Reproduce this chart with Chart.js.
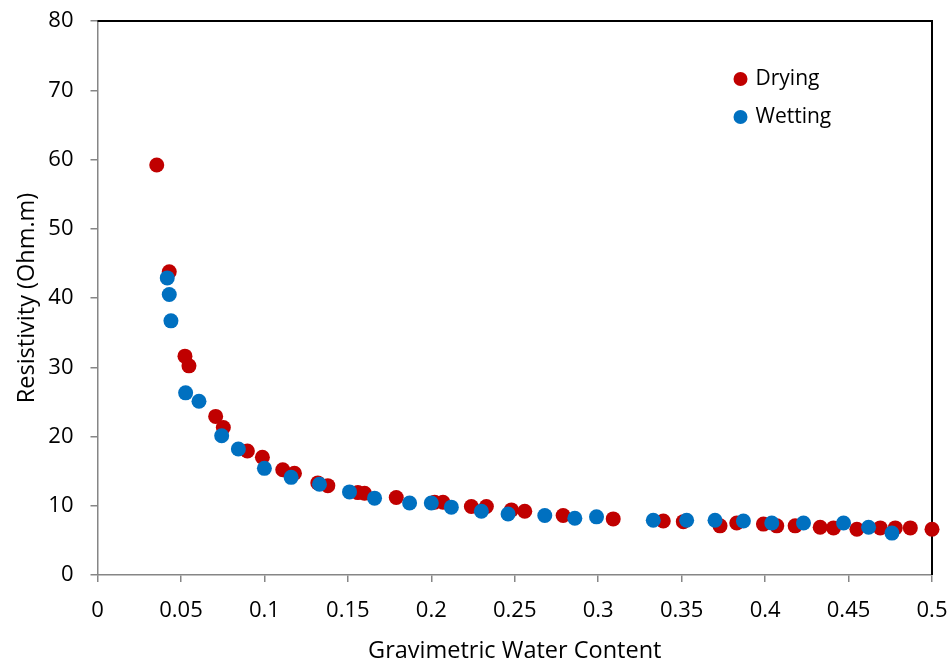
<!DOCTYPE html>
<html lang="en">
  <head>
    <meta charset="utf-8">
    <title>Resistivity vs gravimetric water content</title>
    <script type="text/javascript" src="https://cdn.jsdelivr.net/npm/chart.js"></script>
    <style>
      html, body { margin: 0; padding: 0; background: #fff; }
      #wrap { width: 952px; height: 666px; }
    </style>
  </head>
  <body>
    <div id="wrap">
      <canvas id="myChart" width="952" height="666"></canvas>
    </div>

    <script>
      // values
      const dryingX = [0.0355, 0.043, 0.0524, 0.0548, 0.0708, 0.0754, 0.0898, 0.0988, 0.111, 0.118,
        0.132, 0.138, 0.156, 0.160, 0.179, 0.202, 0.207, 0.224, 0.233, 0.248,
        0.256, 0.279, 0.309, 0.339, 0.351, 0.373, 0.383, 0.399, 0.407, 0.418,
        0.433, 0.441, 0.455, 0.469, 0.478, 0.487, 0.5];
      const dryingY = [59.2, 43.8, 31.6, 30.2, 22.9, 21.3, 17.9, 17.0, 15.2, 14.7,
        13.3, 12.9, 11.9, 11.8, 11.2, 10.5, 10.5, 9.9, 9.9, 9.4,
        9.2, 8.6, 8.1, 7.8, 7.7, 7.1, 7.5, 7.35, 7.1, 7.1,
        6.9, 6.8, 6.6, 6.8, 6.8, 6.8, 6.6];

      const wettingX = [0.0418, 0.043, 0.044, 0.0528, 0.0608, 0.0744, 0.0844, 0.1, 0.116, 0.133,
        0.151, 0.166, 0.187, 0.200, 0.212, 0.230, 0.246, 0.268, 0.286, 0.299,
        0.333, 0.353, 0.370, 0.387, 0.404, 0.423, 0.447, 0.462, 0.476];
      const wettingY = [42.9, 40.5, 36.7, 26.3, 25.1, 20.1, 18.2, 15.4, 14.1, 13.1,
        12.0, 11.1, 10.4, 10.4, 9.8, 9.2, 8.8, 8.6, 8.2, 8.4,
        7.9, 7.9, 7.9, 7.8, 7.5, 7.5, 7.5, 6.9, 6.05];

      const seriesNames = ['Drying', 'Wetting'];
      const seriesColors = ['#C00000', '#0070C0'];

      const fontFamily = "'Open Sans', 'Noto Sans', sans-serif";
      const axisGray = '#868686';

      const toPoints = (xs, ys) => xs.map((x, i) => ({x: x, y: ys[i]}));

      // black frame on top and right, legend inside the plot
      const framePlugin = {
        id: 'frame',
        beforeDatasetsDraw(chart) {
          const a = chart.chartArea;
          const ctx = chart.ctx;
          ctx.save();
          ctx.strokeStyle = '#000';
          ctx.lineWidth = 2;
          ctx.beginPath();
          ctx.moveTo(a.left, a.top);
          ctx.lineTo(a.right, a.top);
          ctx.lineTo(a.right, a.bottom);
          ctx.stroke();
          ctx.restore();
        },
        afterDraw(chart) {
          const ctx = chart.ctx;
          const a = chart.chartArea;
          ctx.save();
          ctx.font = '21px ' + fontFamily;
          ctx.textBaseline = 'middle';
          ctx.textAlign = 'left';
          seriesNames.forEach((name, i) => {
            const cx = a.left + 643;
            const cy = a.top + 58 + i * 38;
            ctx.fillStyle = seriesColors[i];
            ctx.beginPath();
            ctx.arc(cx, cy, 7, 0, Math.PI * 2);
            ctx.fill();
            ctx.fillStyle = '#000';
            ctx.fillText(name, cx + 15, cy);
          });
          ctx.restore();
        }
      };

      const ctx = document.getElementById('myChart').getContext('2d');

      new Chart(ctx, {
        type: 'scatter',
        data: {
          datasets: [
            {
              label: seriesNames[1],
              data: toPoints(wettingX, wettingY),
              backgroundColor: seriesColors[1],
              borderWidth: 0,
              pointRadius: 7.5,
              clip: false,
              order: 0
            },
            {
              label: seriesNames[0],
              data: toPoints(dryingX, dryingY),
              backgroundColor: seriesColors[0],
              borderWidth: 0,
              pointRadius: 7.5,
              clip: false,
              order: 1
            }
          ]
        },
        options: {
          responsive: false,
          animation: false,
          layout: {
            autoPadding: false,
            padding: {top: 21, right: 20, left: 0, bottom: 0}
          },
          plugins: {
            legend: {display: false},
            tooltip: {enabled: false}
          },
          scales: {
            x: {
              type: 'linear',
              min: 0,
              max: 0.5,
              afterFit(scale) {
                scale.height = 91;
                scale.paddingLeft = 0;
                scale.paddingRight = 0;
              },
              grid: {drawOnChartArea: false, drawTicks: true, tickLength: 7, color: axisGray, lineWidth: 1.5},
              border: {color: axisGray, width: 1.5},
              ticks: {
                stepSize: 0.05,
                padding: 16,
                color: '#000',
                font: {family: fontFamily, size: 22},
                callback: (v) => String(Math.round(v * 100) / 100)
              },
              title: {
                display: true,
                text: 'Gravimetric Water Content',
                color: '#000',
                font: {family: fontFamily, size: 23.5},
                padding: {top: 4, bottom: 1}
              }
            },
            y: {
              min: 0,
              max: 80,
              afterFit(scale) {
                scale.width = 97.5;
                scale.paddingTop = 0;
                scale.paddingBottom = 0;
              },
              grid: {drawOnChartArea: false, drawTicks: true, tickLength: 7, color: axisGray, lineWidth: 1.5},
              border: {color: axisGray, width: 1.5},
              ticks: {
                stepSize: 10,
                padding: 17,
                color: '#000',
                font: {family: fontFamily, size: 22}
              },
              title: {
                display: true,
                text: 'Resistivity (Ohm.m)',
                color: '#000',
                font: {family: fontFamily, size: 23.5},
                padding: {top: 13, bottom: 4}
              }
            }
          }
        },
        plugins: [framePlugin]
      });
    </script>
  </body>
</html>
